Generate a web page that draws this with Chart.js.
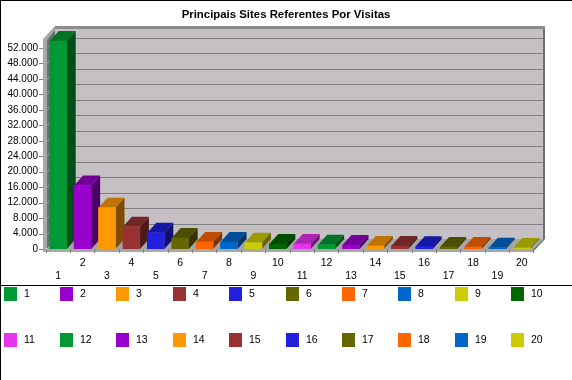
<!DOCTYPE html>
<html>
<head>
<meta charset="utf-8">
<style>html,body{margin:0;padding:0;background:#fff}canvas{display:block}</style>
<script src="https://cdn.jsdelivr.net/npm/chart.js@4"></script>
</head>
<body>
<canvas id="c" width="572" height="380"></canvas>
<script>
const categories = ['1','2','3','4','5','6','7','8','9','10','11','12','13','14','15','16','17','18','19','20'];
const visits = [53800,16400,10700,5770,4220,2850,1810,1810,1640,1290,1290,1120,1030,780,780,690,520,520,340,260];
const barColors = ['#009933','#9900cc','#ff9900','#993333','#2020dd','#666600','#ff6600','#0066cc','#cccc00','#006600','#e633ee','#009933','#9900cc','#ff9900','#993333','#2020dd','#666600','#ff6600','#0066cc','#cccc00'];
const chartTitle = 'Principais Sites Referentes Por Visitas';
const tickValues = [0,4000,8000,12000,16000,20000,24000,28000,32000,36000,40000,44000,48000,52000];
const axisMax = 54333;

const FONT = '"Liberation Sans", sans-serif';
const DX = 9, DY = 10;      // bar extrusion
const WX = 9, WY = 10;      // wall depth

function shade(hex, f) {
  const n = parseInt(hex.slice(1), 16);
  const c = s => Math.round(((n >> s) & 255) * f);
  return `rgb(${c(16)},${c(8)},${c(0)})`;
}
function poly(ctx, pts, fill) {
  ctx.fillStyle = fill;
  ctx.beginPath();
  pts.forEach((p, i) => i ? ctx.lineTo(p[0], p[1]) : ctx.moveTo(p[0], p[1]));
  ctx.closePath();
  ctx.fill();
}
function line(ctx, x1, y1, x2, y2, col) {
  ctx.strokeStyle = col;
  ctx.lineWidth = 1;
  ctx.beginPath();
  ctx.moveTo(x1, y1);
  ctx.lineTo(x2, y2);
  ctx.stroke();
}

const scene = {
  id: 'scene',
  beforeDraw(chart) {
    const { ctx, chartArea: a, scales: { y } } = chart;
    const W = chart.width, H = chart.height;
    const bottom = a.bottom, top = a.top;
    const fl = a.left - 3, fr = a.right - 1;          // front edge of the box
    const bl = a.left + WX, br = a.right + WX;        // back wall edges
    ctx.save();
    // frame
    ctx.fillStyle = '#000';
    ctx.fillRect(0, 0, W, 1);
    ctx.fillRect(0, 0, 1, H);
    ctx.fillRect(0, 285, W, 1);
    // top rim and right wall
    poly(ctx, [[bl, top - 13], [br + 2, top - 13], [br + 2, bottom - WY], [fr, bottom + 3], [fr, bottom], [br, bottom - WY], [br, top - WY], [bl, top - WY]], '#6f6f6f');
    ctx.fillStyle = '#8c8c8c';
    ctx.fillRect(bl, top - 13, br + 2 - bl, 3);
    // back wall
    ctx.fillStyle = '#c4c0c4';
    ctx.fillRect(bl, top - WY, br - bl, bottom - top);
    // left wall
    poly(ctx, [[fl, top], [bl, top - 13], [bl, bottom - WY], [fl, bottom + 3]], '#a8a8a8');
    poly(ctx, [[fl + 4, top + 1], [bl, top - 9], [bl, bottom - WY], [fl + 4, bottom]], '#6e6e6e');
    // floor
    poly(ctx, [[fl + 4, bottom], [bl, bottom - WY], [br, bottom - WY], [fr, bottom]], '#a4a4a4');
    ctx.fillStyle = '#a8a8a8';
    ctx.fillRect(fl, bottom, fr - fl, 3);
    // grid lines, wall diagonals, axis ticks
    y.ticks.forEach(t => {
      const py = Math.round(y.getPixelForValue(t.value)) + 0.5;
      if (t.value > 0) {
        line(ctx, bl, py - WY, br, py - WY, '#808080');
        line(ctx, fl + 4, py, bl, py - WY, '#989898');
      }
      line(ctx, fl - 4, py, fl, py, '#808080');
    });
    ctx.restore();
  },
  beforeDatasetsDraw(chart) {
    const { ctx } = chart;
    const bars = chart.getDatasetMeta(0).data;
    ctx.save();
    bars.forEach((b, i) => {
      const hw = b.width / 2, l = b.x - hw, r = b.x + hw, t = b.y, u = b.base;
      poly(ctx, [[l, t], [l + DX, t - DY], [r + DX, t - DY], [r, t]], shade(barColors[i], 0.75));
      poly(ctx, [[r, t], [r + DX, t - DY], [r + DX, u - DY], [r, u]], shade(barColors[i], 0.5));
    });
    ctx.restore();
  },
  afterDraw(chart) {
    const { ctx } = chart;
    const xs = [4, 60, 116, 173, 229, 286, 342, 398, 455, 511];
    const ys = [287, 333];
    ctx.save();
    ctx.font = '10.5px ' + FONT;
    ctx.textBaseline = 'middle';
    ctx.textAlign = 'left';
    categories.forEach((c, i) => {
      const x = xs[i % 10], yy = ys[Math.floor(i / 10)];
      ctx.fillStyle = barColors[i];
      ctx.fillRect(x, yy, 13, 14);
      ctx.fillStyle = '#000';
      ctx.fillText(c, x + 20, yy + 7.5);
    });
    ctx.restore();
  }
};

new Chart(document.getElementById('c'), {
  type: 'bar',
  data: {
    labels: categories,
    datasets: [{ data: visits, backgroundColor: barColors, barThickness: 17, borderWidth: 0, yAxisID: 'y' }]
  },
  plugins: [scene],
  options: {
    responsive: false,
    animation: false,
    layout: { padding: 0 },
    plugins: {
      legend: { display: false },
      tooltip: { enabled: false },
      title: {
        display: true,
        text: chartTitle,
        color: '#000',
        align: 'center',
        font: { family: FONT, size: 11.4, weight: 'bold', lineHeight: '11px' },
        padding: { top: 9, bottom: 19 }
      }
    },
    scales: {
      x: {
        grid: { drawOnChartArea: false, drawTicks: true, tickLength: 4, color: '#808080' },
        border: { display: false },
        afterFit(s) { s.height = 131; },
        ticks: {
          autoSkip: false,
          maxRotation: 0,
          minRotation: 0,
          padding: 4,
          color: '#000',
          font: { family: FONT, size: 10.5, lineHeight: '13px' },
          callback(v, i) { const l = categories[i]; return i % 2 ? [l] : ['', l]; }
        }
      },
      y: {
        min: 0,
        max: axisMax,
        grid: { display: false, drawTicks: false },
        border: { display: false },
        afterFit(s) { s.width = 46; },
        afterBuildTicks(s) { s.ticks = tickValues.map(value => ({ value })); },
        ticks: {
          autoSkip: false,
          padding: 8,
          color: '#000',
          font: { family: FONT, size: 10 },
          callback(v) { return String(v).replace(/\B(?=(\d{3})+$)/g, '.'); }
        }
      },
      rightGap: {
        type: 'linear',
        position: 'right',
        display: true,
        grid: { display: false, drawTicks: false },
        border: { display: false },
        ticks: { display: false },
        afterFit(s) { s.width = 38; }
      }
    }
  }
});
</script>
</body>
</html>
